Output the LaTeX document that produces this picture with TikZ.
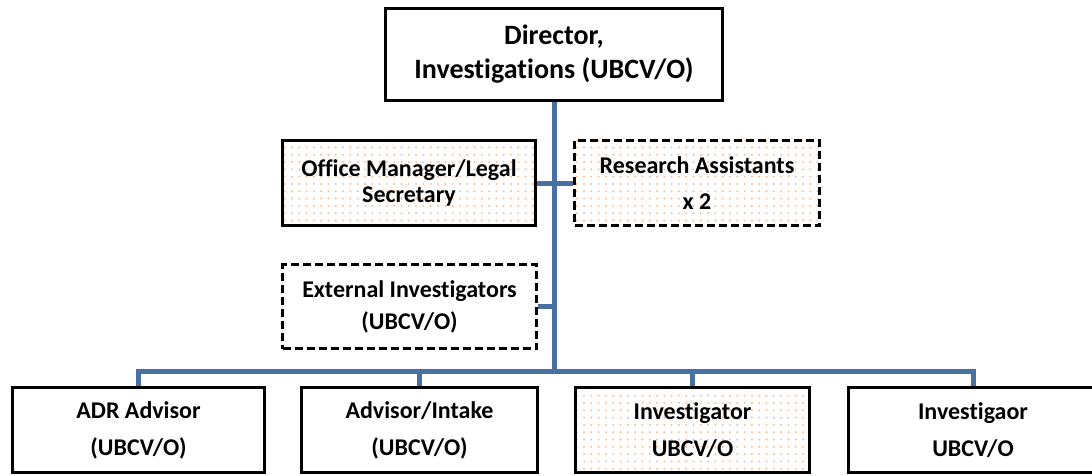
\documentclass[tikz,border=0pt]{standalone}
\usepackage{fontspec}
\setmainfont{Carlito}[Ligatures=NoCommon]
\usetikzlibrary{patterns.meta,backgrounds}
\definecolor{linkblue}{RGB}{72,112,163}
\definecolor{dotorange}{RGB}{248,190,145}
\tikzset{
  box/.style={draw=black, line width=3pt, inner sep=0pt, align=center, minimum height=85pt},
  dashbox/.style={box, dash pattern=on 8pt off 4pt},
  dotfill/.style={pattern={Dots[radius=1.1pt, distance=7.3pt]}, pattern color=dotorange},
  link/.style={draw=linkblue, line width=5pt},
  fbig/.style={font=\fontsize{28}{34}\selectfont\bfseries},
  fmid/.style={font=\fontsize{24}{#1}\selectfont\bfseries},
}
\begin{document}
\begin{tikzpicture}[x=1pt,y=-1pt]
\clip (0,0) rectangle (1092,476);
\node[box, fbig, minimum width=337pt, minimum height=92pt] (dir) at (554,54.5) {Director,\\Investigations (UBCV/O)};
\node[box, dotfill, fmid=26, minimum width=253pt] (off) at (409,183) {Office Manager/Legal\\Secretary};
\node[dashbox, dotfill, fmid=36, minimum width=245pt] (res) at (697,183) {Research Assistants\\x 2};
\node[dashbox, fmid=32, minimum width=254pt, minimum height=84pt] (ext) at (409.5,306.5) {External Investigators\\(UBCV/O)};
\node[box, fmid=37, minimum width=252pt] (adr) at (138.5,430) {ADR Advisor\\(UBCV/O)};
\node[box, fmid=37, minimum width=236pt] (adv) at (419.5,430) {Advisor/Intake\\(UBCV/O)};
\node[box, dotfill, fmid=37, minimum width=234pt] (inv1) at (692.5,430) {Investigator\\UBCV/O};
\node[box, fmid=37, minimum width=249pt] (inv2) at (973,430) {Investigaor\\UBCV/O};
\coordinate (bus) at (554,371);
\begin{scope}[on background layer]
\draw[link] (dir.south) -- (bus);
\draw[link] (off.east) -- (res.west);
\draw[link] (ext.east) -- (ext.east -| bus);
\draw[link] (adr.north) |- (bus) -| (inv2.north);
\draw[link] (adv.north) -- (adv.north |- bus);
\draw[link] (inv1.north) -- (inv1.north |- bus);
\end{scope}
\end{tikzpicture}
\end{document}
